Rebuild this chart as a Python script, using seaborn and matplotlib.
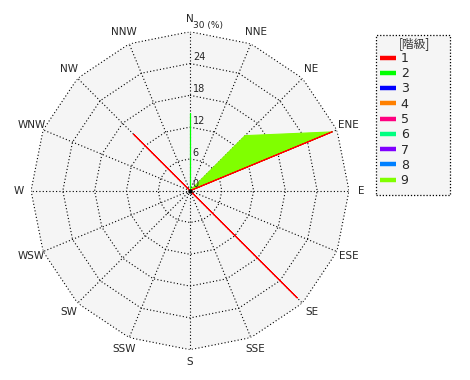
import numpy as np
import pandas as pd
import matplotlib
matplotlib.use("Agg")
import matplotlib.pyplot as plt
from matplotlib.lines import Line2D
from matplotlib.patches import Rectangle
import seaborn as sns

# ---- data ----
directions = ["N", "NNE", "NE", "ENE", "E", "ESE", "SE", "SSE",
              "S", "SSW", "SW", "WSW", "W", "WNW", "NW", "NNW"]
class_names = ["1", "2", "3", "4", "5", "6", "7", "8", "9"]
class_colors = ["#ff0000", "#00ff00", "#0000ff", "#ff8000", "#ff0080",
                "#00ff80", "#8000ff", "#0080ff", "#80ff00"]
class1 = [0, 0, 0, 29.0, 0, 0, 28.6, 0, 0, 0, 0, 0, 0, 0, 15.0, 0]
class2 = [14.6, 0, 0, 0, 0, 0, 0, 0, 0, 0, 0, 0, 0, 0, 0, 0]
class9 = [0, 0, 14.7, 29.0, 0, 0, 0, 0, 0, 0, 0, 0, 0, 0, 0, 0]
r_ticks = [0, 6, 12, 18, 24, 30]
r_max = 30

sns.set_style("white")
plt.rcParams["font.family"] = ["DejaVu Sans", "Noto Sans CJK JP"]

fig = plt.figure(figsize=(4.7, 3.8), dpi=100)
ax = fig.add_axes([0.066, 0.0797, 0.6766, 0.8368], projection="polar")
ax.set_theta_zero_location("N")
ax.set_theta_direction(-1)
ax.set_ylim(0, r_max)
ax.grid(False)
ax.spines["polar"].set_visible(False)
ax.patch.set_visible(False)
ax.set_xticks([])
ax.set_yticks([])

n = len(directions)
theta = np.arange(n) * 2 * np.pi / n
theta_closed = np.append(theta, 2 * np.pi)

def closed(vals):
    return np.append(np.asarray(vals, float), vals[0])

# background polygon
ax.fill(theta_closed, [r_max] * (n + 1), color="#f5f5f5", zorder=0, lw=0)

dot = (0, (1, 2))
for r in r_ticks[1:]:
    ax.plot(theta_closed, [r] * (n + 1), color="black", lw=0.8, ls=dot, zorder=1)
for t in theta:
    ax.plot([t, t], [0, r_max], color="black", lw=0.8, ls=dot, zorder=1)

# class 9 filled polygon
ax.fill(theta_closed, closed(class9), color=class_colors[8], zorder=2, lw=0)

# lines for classes
for vals, col in [(class9, class_colors[8]), (class1, class_colors[0]), (class2, class_colors[1])]:
    df = pd.DataFrame({"theta": theta_closed, "r": closed(vals)})
    sns.lineplot(data=df, x="theta", y="r", ax=ax, sort=False, estimator=None,
                 color=col, lw=0.8, zorder=3)
ax.set_xlabel("")
ax.set_ylabel("")

ax.scatter([0], [0], s=10, color="black", zorder=5, lw=0)

# direction labels
for t, lab in zip(theta, directions):
    ax.text(t, 32.4, lab, ha="center", va="center", fontsize=7.5,
            clip_on=False)

# radial tick labels
for r in r_ticks:
    lab = f"{r}" if r != r_max else f"{r} (%)"
    ax.annotate(lab, xy=(0, r), xytext=(2, 1), textcoords="offset points",
                ha="left", va="bottom", fontsize=7 if r != r_max else 6.5,
                annotation_clip=False)

# legend box
fig.patches.append(Rectangle((375.7 / 470, 1 - 195 / 380), 74.3 / 470, 160 / 380,
                             transform=fig.transFigure, facecolor="#f5f5f5",
                             edgecolor="black", lw=0.9, ls=(0, (1, 1.5)),
                             zorder=0))
handles = [Line2D([], [], color=c, lw=3.2, solid_capstyle="butt") for c in class_colors]
leg = fig.legend(handles, class_names, loc="upper left",
                 bbox_to_anchor=(380 / 470, 1 - 52 / 380), frameon=False, fontsize=9,
                 handlelength=1.3, handletextpad=0.35, labelspacing=0.18,
                 borderpad=0, borderaxespad=0)
fig.text(414 / 470, 1 - 43.5 / 380, "[階級]", ha="center", va="center",
         fontsize=8.5, color="#333333",
         family=["Noto Sans CJK JP", "DejaVu Sans"])

fig.savefig("out.png", dpi=100)
